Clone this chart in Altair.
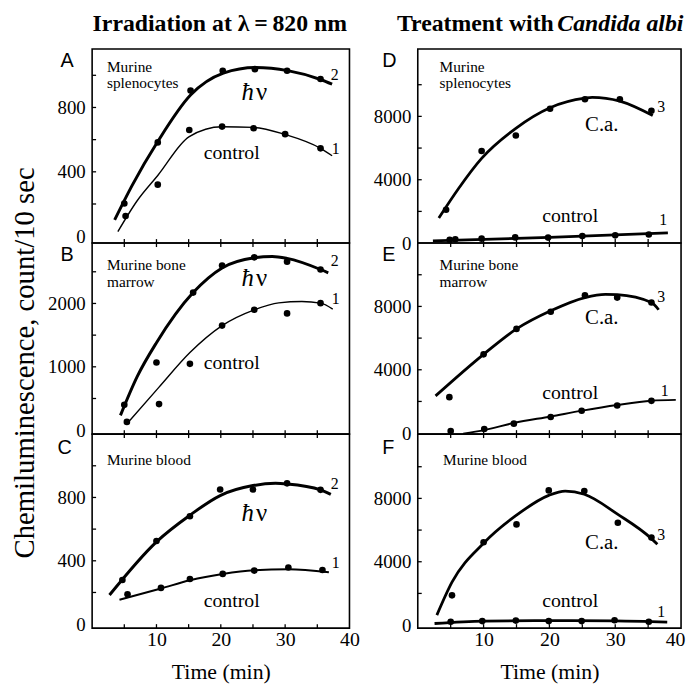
import altair as alt
import pandas as pd

SERIF = "Liberation Serif"
SANS = "Liberation Sans"

TIME_TICKS = [5, 10, 15, 20, 25, 30, 35]
TIME_LABELS = [10, 20, 30, 40]

# ---------------- Panel A : splenocytes, irradiation ----------------
A_hv_t = [5.0, 10.2, 15.3, 20.3, 25.3, 30.3, 35.5]
A_hv_v = [203, 583, 905, 1028, 1038, 1028, 977]
A_ctl_t = [5.2, 10.2, 15.1, 20.2, 25.1, 30.0, 35.5]
A_ctl_v = [125, 320, 660, 681, 671, 634, 546]
A_hv_fit_t = [3.5, 6.2, 10.2, 15.3, 20.4, 25.4, 30.4, 35.5, 37.3]
A_hv_fit_v = [101, 314, 588, 877, 1013, 1048, 1029, 974, 945]
A_ctl_fit_t = [4.0, 7.0, 10.2, 15.1, 20.2, 25.1, 30.0, 35.5, 37.3]
A_ctl_fit_v = [28, 220, 377, 619, 680, 676, 632, 546, 500]

# ---------------- Panel B : bone marrow, irradiation ----------------
B_hv_t = [5.0, 10.0, 15.7, 20.2, 25.2, 30.3, 35.5]
B_hv_v = [400, 1068, 2172, 2598, 2728, 2660, 2536]
B_ctl_t = [5.4, 10.4, 15.2, 20.2, 25.2, 30.3, 35.5]
B_ctl_v = [130, 412, 1047, 1651, 1900, 1843, 2005]
B_hv_fit_t = [4.4, 7.0, 10.0, 15.7, 20.2, 25.2, 28.0, 30.3, 35.5, 36.7]
B_hv_fit_v = [234, 845, 1381, 2172, 2561, 2721, 2742, 2711, 2536, 2484]
B_ctl_fit_t = [5.75, 10.4, 15.2, 20.2, 25.2, 29.0, 32.6, 35.5, 37.4]
B_ctl_fit_v = [141, 680, 1226, 1651, 1900, 2010, 2030, 2005, 1911]

# ---------------- Panel C : blood, irradiation ----------------
C_hv_t = [4.7, 10.0, 15.2, 19.9, 25.0, 30.3, 35.5]
C_hv_v = [279, 525, 681, 850, 850, 889, 848]
C_ctl_t = [5.5, 10.7, 15.2, 20.3, 25.2, 30.5, 35.8]
C_ctl_v = [188, 229, 285, 317, 338, 358, 342]
C_hv_fit_t = [2.7, 10.0, 15.2, 19.9, 25.0, 28.5, 30.3, 35.5, 37.1]
C_hv_fit_v = [184, 520, 688, 812, 875, 889, 885, 848, 819]
C_ctl_fit_t = [4.25, 10.7, 15.2, 20.3, 25.2, 30.5, 36.8]
C_ctl_fit_v = [154, 225, 277, 317, 340, 346, 327]

# ---------------- Panel D : splenocytes, Candida ----------------
D_ca_t = [4.3, 9.7, 14.9, 20.1, 25.4, 30.7, 35.5]
D_ca_v = [2104, 5812, 6792, 8479, 9083, 9083, 8354]
D_ctl_t = [4.85, 5.7, 9.7, 14.8, 19.8, 25.0, 30.0, 35.1]
D_ctl_v = [200, 240, 280, 360, 345, 450, 490, 540]
D_ca_fit_t = [3.2, 6.2, 9.7, 14.9, 20.1, 25.4, 26.5, 30.7, 35.7]
D_ca_fit_v = [1583, 3450, 5350, 7250, 8550, 9150, 9200, 8960, 8050]
D_ctl_fit_t = [2.3, 20.0, 38.0]
D_ctl_fit_v = [146, 360, 650]

# ---------------- Panel E : bone marrow, Candida ----------------
E_ca_t = [4.8, 10.0, 15.0, 20.2, 25.4, 30.3, 35.5]
E_ca_v = [2272, 4976, 6579, 7662, 8704, 8559, 8246]
E_ctl_t = [5.0, 10.1, 14.6, 20.2, 24.9, 30.3, 35.5]
E_ctl_v = [130, 258, 599, 1018, 1414, 1747, 2039]
E_ca_fit_t = [2.7, 10.0, 15.0, 20.2, 25.4, 28.5, 30.3, 35.5, 36.6]
E_ca_fit_v = [2350, 4976, 6579, 7725, 8560, 8767, 8746, 8246, 7790]
E_ctl_fit_t = [6.9, 10.1, 14.6, 20.2, 25.0, 30.3, 35.5, 39.2]
E_ctl_fit_v = [-40, 190, 640, 1050, 1420, 1775, 2045, 2100]

# ---------------- Panel F : blood, Candida ----------------
F_ca_t = [5.2, 10.0, 15.0, 19.9, 25.3, 30.4, 35.5]
F_ca_v = [1878, 5232, 6357, 8504, 8463, 6462, 5524]
F_ctl_t = [5.0, 9.8, 14.9, 19.9, 24.9, 29.9, 35.1]
F_ctl_v = [213, 253, 284, 253, 253, 304, 213]
F_ca_fit_t = [2.9, 5.2, 10.0, 15.0, 19.9, 22.4, 25.3, 30.4, 35.5, 36.4]
F_ca_fit_v = [627, 2709, 5170, 6941, 8191, 8462, 8262, 6989, 5461, 5104]
F_ctl_fit_t = [2.55, 10.0, 20.0, 30.0, 37.9]
F_ctl_fit_v = [101, 253, 284, 264, 192]

ONE = pd.DataFrame({"k": [0]})
TICK = 4


def label(text, x, y, size, font=SERIF, align="left", style="normal",
          weight="normal", angle=0, limit=0):
    kw = dict(text=text, font=font, fontSize=size, align=align,
              baseline="alphabetic", fontStyle=style, fontWeight=weight,
              color="black")
    if angle:
        kw["angle"] = angle
    if limit:
        kw["limit"] = limit
        kw["ellipsis"] = "\u200b"
    return alt.Chart(ONE).mark_text(**kw).encode(x=alt.value(x), y=alt.value(y))


def panel(W, H, ydom, ylabels, yticks, series, texts, bottom=False,
          top_ticks=False, flush=False):
    xs = alt.Scale(domain=[0, 40], nice=False, zero=False)
    ys = alt.Scale(domain=ydom, nice=False, zero=False)
    if bottom:
        xkw = dict(values=TIME_LABELS, title="Time (min)", ticks=False,
                   tickSize=0, domain=False, grid=False,
                   labelPadding=2, titlePadding=12, labelFontSize=20,
                   titleFontSize=22, labelFont=SERIF, titleFont=SERIF,
                   titleFontWeight="normal", labelColor="black",
                   titleColor="black", format="d", labelOverlap=False)
        if flush:
            xkw.update(labelFlush=True, labelFlushOffset=4)
        else:
            xkw.update(labelFlush=False)
        xaxis = alt.Axis(**xkw)
    else:
        xaxis = None
    yaxis = alt.Axis(values=ylabels, title=None, ticks=False, tickSize=0,
                     domain=False, grid=False, labelPadding=7, labelFontSize=19,
                     labelFont=SERIF, labelColor="black", labelOverlap=False,
                     format="d")
    layers = []
    for ct, cv, pt, pv, w in series:
        cdf = pd.DataFrame({"t": ct, "v": cv})
        pdf = pd.DataFrame({"t": pt, "v": pv})
        layers.append(alt.Chart(cdf).mark_line(color="black", strokeWidth=w,
                                               interpolate="monotone").encode(
            x=alt.X("t:Q", scale=xs, axis=xaxis),
            y=alt.Y("v:Q", scale=ys, axis=yaxis)))
        layers.append(alt.Chart(pdf).mark_circle(color="black", opacity=1,
                                                 size=45).encode(
            x=alt.X("t:Q", scale=xs, axis=xaxis),
            y=alt.Y("v:Q", scale=ys, axis=yaxis)))
    ydf = pd.DataFrame({"v": yticks})
    layers.append(alt.Chart(ydf).mark_rule(color="black", strokeWidth=1.3).encode(
        y=alt.Y("v:Q", scale=ys, axis=yaxis), x=alt.value(0), x2=alt.value(TICK)))
    xdf = pd.DataFrame({"t": TIME_TICKS})
    layers.append(alt.Chart(xdf).mark_rule(color="black", strokeWidth=1.3).encode(
        x=alt.X("t:Q", scale=xs, axis=xaxis), y=alt.value(H), y2=alt.value(H - TICK)))
    if top_ticks:
        layers.append(alt.Chart(xdf).mark_rule(color="black", strokeWidth=1.3).encode(
            x=alt.X("t:Q", scale=xs, axis=xaxis), y=alt.value(0), y2=alt.value(TICK)))
    layers.extend(texts)
    return alt.layer(*layers).properties(width=W, height=H)


WL, WR = 260, 266
H1, H2, H3 = 196, 193, 196

A = panel(WL, H1, [-43, 1163], [0, 400, 800], [200, 400, 600, 800, 1000],
          [(A_hv_fit_t, A_hv_fit_v, A_hv_t, A_hv_v, 3.0),
           (A_ctl_fit_t, A_ctl_fit_v, A_ctl_t, A_ctl_v, 1.4)],
          [label("A", -32, 18, 20, font=SANS),
           label("Murine", 15, 23, 15.5), label("splenocytes", 15, 39, 15.5),
           label("ħ", 151, 51, 25, style="italic"), label("ν", 165.5, 51, 25),
           label("control", 141, 111, 20, align="center"),
           label("2", 241, 31, 16), label("1", 242, 106, 16),
           label("Irradiation at λ\u2009=\u2009820 nm", 129, -18, 24,
                 weight="bold", align="center")])

B = panel(WL, H2, [-62, 2953], [0, 1000, 2000], [500, 1000, 1500, 2000, 2500],
          [(B_hv_fit_t, B_hv_fit_v, B_hv_t, B_hv_v, 3.0),
           (B_ctl_fit_t, B_ctl_fit_v, B_ctl_t, B_ctl_v, 1.4)],
          [label("B", -32, 18, 20, font=SANS),
           label("Murine bone", 15, 27.5, 15.5), label("marrow", 15, 44.5, 15.5),
           label("ħ", 151, 43, 25, style="italic"), label("ν", 165.5, 43, 25),
           label("control", 141, 127.5, 20, align="center"),
           label("2", 241, 23, 16), label("1", 242, 61.5, 16),
           label("Chemiluminescence, count/10 sec", -59, 121, 29, angle=270,
                 align="center")],
          top_ticks=True)

C = panel(WL, H3, [-25, 1200], [0, 400, 800], [200, 400, 600, 800, 1000],
          [(C_hv_fit_t, C_hv_fit_v, C_hv_t, C_hv_v, 3.0),
           (C_ctl_fit_t, C_ctl_fit_v, C_ctl_t, C_ctl_v, 2.0)],
          [label("C", -35, 20, 20, font=SANS),
           label("Murine blood", 15, 31, 15.5),
           label("ħ", 151, 88, 25, style="italic"), label("ν", 165.5, 88, 25),
           label("control", 141, 175, 20, align="center"),
           label("2", 241, 55, 16), label("1", 242, 135, 16)],
          bottom=True, top_ticks=True)

D = panel(WR, H1, [0, 12250], [0, 4000, 8000], [2000, 4000, 6000, 8000, 10000],
          [(D_ca_fit_t, D_ca_fit_v, D_ca_t, D_ca_v, 2.8),
           (D_ctl_fit_t, D_ctl_fit_v, D_ctl_t, D_ctl_v, 2.8)],
          [label("D", -36, 18, 20, font=SANS),
           label("Murine", 22, 23, 15.5), label("splenocytes", 22, 39, 15.5),
           label("C.a.", 169, 83, 21),
           label("control", 154, 175, 20, align="center"),
           label("3", 242, 64, 16), label("1", 244, 177.5, 16),
           label("Treatment with", -21, -18, 24, weight="bold"),
           label("Candida albicans", 141, -18, 24, weight="bold", style="italic",
                 limit=130)])

E = panel(WR, H2, [-62, 12000], [0, 4000, 8000], [2000, 4000, 6000, 8000, 10000],
          [(E_ca_fit_t, E_ca_fit_v, E_ca_t, E_ca_v, 2.8),
           (E_ctl_fit_t, E_ctl_fit_v, E_ctl_t, E_ctl_v, 2.0)],
          [label("E", -36, 18, 20, font=SANS),
           label("Murine bone", 22, 27.5, 15.5), label("marrow", 22, 44.5, 15.5),
           label("C.a.", 169, 81.5, 21),
           label("control", 154, 157.5, 20, align="center"),
           label("3", 242, 60, 16), label("1", 245.5, 155, 16)],
          top_ticks=True)

F = panel(WR, H3, [-190, 12060], [0, 4000, 8000], [2000, 4000, 6000, 8000, 10000],
          [(F_ca_fit_t, F_ca_fit_v, F_ca_t, F_ca_v, 2.8),
           (F_ctl_fit_t, F_ctl_fit_v, F_ctl_t, F_ctl_v, 2.8)],
          [label("F", -36, 20, 20, font=SANS),
           label("Murine blood", 25.5, 31, 15.5),
           label("C.a.", 169, 116, 21),
           label("control", 154, 175, 20, align="center"),
           label("3", 242, 107, 16), label("1", 242, 185, 16)],
          bottom=True, top_ticks=True, flush=True)

chart = alt.concat(A, D, B, E, C, F, columns=2,
                   spacing={"row": 0, "column": 69}, bounds="flush").properties(
    padding={"left": 2, "top": 0, "right": 0, "bottom": 0}
).configure_view(stroke="black", strokeWidth=1.6)

chart.save("out.html", embed_options={"renderer": "svg", "actions": False})
